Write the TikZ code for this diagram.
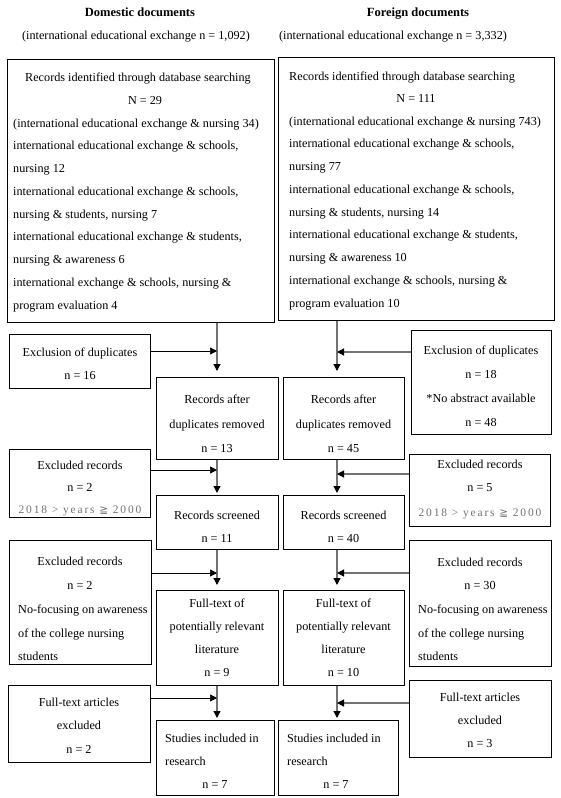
\documentclass[tikz,border=0pt]{standalone}
\usepackage{fontspec}
\setmainfont{Liberation Serif}
\newfontfamily\symfont{DejaVu Sans}
\newfontfamily\spfont[LetterSpace=16]{Liberation Serif}
\usetikzlibrary{arrows.meta}
\newcommand\mkbox[5]{\node[bx, anchor=north west, minimum width={(#4-#2)*1pt}, minimum height={(#5-#3)*1pt}] (#1) at (#2,#3) {};}
\tikzset{
  bx/.style={draw=black, line width=1.3pt, inner sep=0pt},
  tx/.style={anchor=base, inner sep=0pt, font=\fontsize{12.2}{14}\selectfont},
  txl/.style={tx, anchor=base west},
  hd/.style={tx, font=\fontsize{12.5}{14}\selectfont\bfseries},
  yrs/.style={tx, text=black!55, font=\fontsize{11.5}{13}\spfont},
  vln/.style={draw=black!55, line width=1.2pt, -{Triangle[length=7pt,width=7pt,color=black]}},
  hlnL/.style={draw=black, line width=0.7pt, -{Triangle[length=7pt,width=7pt,color=black]}},
  hlnR/.style={draw=black!55, line width=1.2pt, -{Triangle[length=7pt,width=7pt,color=black]}},
}
\newcommand\geqsym{{\symfont\fontsize{10.5}{12}\selectfont ≧}}
\begin{document}
\begin{tikzpicture}[x=1pt,y=-1pt]
\useasboundingbox[fill=white] (0,0) rectangle (561,798);
% headers
\node[hd] (hD) at (140,16) {Domestic documents};
\node[tx] (hDn) at (136,39) {(international educational exchange n = 1,092)};
\node[hd] (hF) at (418,16) {Foreign documents};
\node[tx] (hFn) at (393,39) {(international educational exchange n = 3,332)};
% big boxes
\mkbox{LB}{7}{59}{274}{322}
\mkbox{RB}{278}{57}{554}{320}
\node[tx] (LBt) at (138,81) {Records identified through database searching};
\node[tx] (LBn) at (145,104) {N = 29};
\node[txl] (LB1) at (13,127) {(international educational exchange \& nursing 34)};
\node[txl] (LB2) at (13,149.75) {international educational exchange \& schools,};
\node[txl] (LB3) at (13,172.5) {nursing 12};
\node[txl] (LB4) at (13,195.25) {international educational exchange \& schools,};
\node[txl] (LB5) at (13,218) {nursing \& students, nursing 7};
\node[txl] (LB6) at (13,240.75) {international educational exchange \& students,};
\node[txl] (LB7) at (13,263.5) {nursing \& awareness 6};
\node[txl] (LB8) at (13,286.25) {international exchange \& schools, nursing \&};
\node[txl] (LB9) at (13,309) {program evaluation 4};
\node[txl] (RBt) at (289,80) {Records identified through database searching};
\node[tx] (RBn) at (416,102) {N = 111};
\node[txl] (RB1) at (289,125) {(international educational exchange \& nursing 743)};
\node[txl] (RB2) at (289,147.75) {international educational exchange \& schools,};
\node[txl] (RB3) at (289,170.5) {nursing 77};
\node[txl] (RB4) at (289,193.25) {international educational exchange \& schools,};
\node[txl] (RB5) at (289,216) {nursing \& students, nursing 14};
\node[txl] (RB6) at (289,238.75) {international educational exchange \& students,};
\node[txl] (RB7) at (289,261.5) {nursing \& awareness 10};
\node[txl] (RB8) at (289,284.25) {international exchange \& schools, nursing \&};
\node[txl] (RB9) at (289,307) {program evaluation 10};
% left column
\mkbox{ExDL}{9}{334}{150}{388}
\node[tx] (ExDL1) at (80,356) {Exclusion of duplicates};
\node[tx] (ExDL2) at (80,379) {n = 16};
\mkbox{ExRL}{9}{449}{150}{517}
\node[tx] (ExRL1) at (80,469) {Excluded records};
\node[tx] (ExRL2) at (80,491) {n = 2};
\node[yrs] (ExRL3) at (80,513) {2018 > years \geqsym{} 2000};
\mkbox{EfL}{9}{540}{151}{664}
\node[tx] (EfL1) at (80,565) {Excluded records};
\node[tx] (EfL2) at (80,589) {n = 2};
\node[txl] (EfL3) at (18,613) {No-focusing on awareness};
\node[txl] (EfL4) at (18,637) {of the college nursing};
\node[txl] (EfL5) at (18,660) {students};
\mkbox{FTL}{8}{685}{150}{762}
\node[tx] (FTL1) at (79,706) {Full-text articles};
\node[tx] (FTL2) at (79,729) {excluded};
\node[tx] (FTL3) at (79,753) {n = 2};
% centre columns
\mkbox{RAL}{156}{377}{278}{459}
\node[tx] (RAL1) at (217,403) {Records after};
\node[tx] (RAL2) at (217,428) {duplicates removed};
\node[tx] (RAL3) at (217,452) {n = 13};
\mkbox{RAR}{283}{377}{404}{459}
\node[tx] (RAR1) at (343.5,403) {Records after};
\node[tx] (RAR2) at (343.5,428) {duplicates removed};
\node[tx] (RAR3) at (343.5,452) {n = 45};
\mkbox{RSL}{156}{495}{278}{549}
\node[tx] (RSL1) at (217,519) {Records screened};
\node[tx] (RSL2) at (217,542) {n = 11};
\mkbox{RSR}{283}{495}{404}{549}
\node[tx] (RSR1) at (343.5,519) {Records screened};
\node[tx] (RSR2) at (343.5,542) {n = 40};
\mkbox{FPL}{156}{590}{278}{685}
\node[tx] (FPL1) at (217,607) {Full-text of};
\node[tx] (FPL2) at (217,630) {potentially relevant};
\node[tx] (FPL3) at (217,653) {literature};
\node[tx] (FPL4) at (217,676) {n = 9};
\mkbox{FPR}{283}{590}{404}{685}
\node[tx] (FPR1) at (343.5,607) {Full-text of};
\node[tx] (FPR2) at (343.5,630) {potentially relevant};
\node[tx] (FPR3) at (343.5,653) {literature};
\node[tx] (FPR4) at (343.5,676) {n = 10};
\mkbox{SIL}{156}{720}{274}{795}
\node[txl] (SIL1) at (165,742) {Studies included in};
\node[txl] (SIL2) at (165,765) {research};
\node[tx] (SIL3) at (215,788) {n = 7};
\mkbox{SIR}{278}{720}{398}{795}
\node[txl] (SIR1) at (287,742) {Studies included in};
\node[txl] (SIR2) at (287,765) {research};
\node[tx] (SIR3) at (336,788) {n = 7};
% right column
\mkbox{ExDR}{411}{330}{551}{434}
\node[tx] (ExDR1) at (481,354) {Exclusion of duplicates};
\node[tx] (ExDR2) at (481,378) {n = 18};
\node[tx] (ExDR3) at (481,402) {*No abstract available};
\node[tx] (ExDR4) at (481,426) {n = 48};
\mkbox{ExRR}{409}{454}{550}{526}
\node[tx] (ExRR1) at (480,468) {Excluded records};
\node[tx] (ExRR2) at (480,491) {n = 5};
\node[yrs] (ExRR3) at (480,516) {2018 > years \geqsym{} 2000};
\mkbox{EfR}{409}{540}{551}{666}
\node[tx] (EfR1) at (480,566) {Excluded records};
\node[tx] (EfR2) at (480,589) {n = 30};
\node[txl] (EfR3) at (418,613) {No-focusing on awareness};
\node[txl] (EfR4) at (418,637) {of the college nursing};
\node[txl] (EfR5) at (418,660) {students};
\mkbox{FTR}{409}{680}{551}{757}
\node[tx] (FTR1) at (480,701) {Full-text articles};
\node[tx] (FTR2) at (480,724) {excluded};
\node[tx] (FTR3) at (480,747) {n = 3};
% connector guides
\coordinate (cL) at (217,0);
\coordinate (cR) at (337,0);
\coordinate (a1) at (0,351);
\coordinate (a2) at (0,352);
\coordinate (a3) at (0,470);
\coordinate (a4) at (0,474);
\coordinate (a5) at (0,573);
\coordinate (a6) at (0,573);
\coordinate (a7) at (0,698);
\coordinate (a8) at (0,703);
% vertical connectors
\draw[vln, shorten >=6pt] (LB.south -| cL) -- (RAL.north -| cL);
\draw[vln, shorten >=6pt] (RB.south -| cR) -- (RAR.north -| cR);
\draw[vln, shorten >=2pt] (RAL.south -| cL) -- (RSL.north -| cL);
\draw[vln, shorten >=2pt] (RAR.south -| cR) -- (RSR.north -| cR);
\draw[vln, shorten >=5pt] (RSL.south -| cL) -- (FPL.north -| cL);
\draw[vln, shorten >=5pt] (RSR.south -| cR) -- (FPR.north -| cR);
\draw[vln, shorten >=2pt] (FPL.south -| cL) -- (SIL.north -| cL);
\draw[vln, shorten >=2pt] (FPR.south -| cR) -- (SIR.north -| cR);
% horizontal connectors
\draw[hlnL] (ExDL.east |- a1) -- (cL |- a1);
\draw[hlnR] (ExDR.west |- a2) -- (cR |- a2);
\draw[hlnL] (ExRL.east |- a3) -- (cL |- a3);
\draw[hlnR] (ExRR.west |- a4) -- (cR |- a4);
\draw[hlnL] (EfL.east |- a5) -- (cL |- a5);
\draw[hlnR] (EfR.west |- a6) -- (cR |- a6);
\draw[hlnL] (FTL.east |- a7) -- (cL |- a7);
\draw[hlnR] (FTR.west |- a8) -- (cR |- a8);
\end{tikzpicture}
\end{document}
